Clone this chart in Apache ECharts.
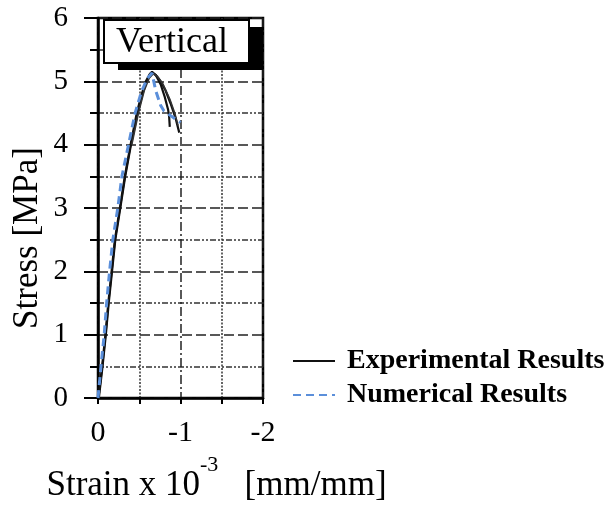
<!DOCTYPE html>
<html>
<head>
<meta charset="utf-8">
<script src="https://cdn.jsdelivr.net/npm/echarts@6/dist/echarts.min.js"></script>
<style>
  html, body { margin: 0; padding: 0; background: #fff; }
  #chart { width: 609px; height: 509px; }
</style>
</head>
<body>
<div id="chart"></div>
<script>
// Strain values (x 10^-3 mm/mm, compressive shown as negative) and stress (MPa)
const exp1Strain = [-0.01, -0.055, -0.095, -0.13, -0.17, -0.21, -0.27, -0.33, -0.40, -0.48, -0.54, -0.59, -0.625, -0.66, -0.70, -0.76, -0.82, -0.88, -0.94, -0.985];
const exp1Stress = [0, 0.5, 1.0, 1.5, 2.0, 2.5, 3.0, 3.5, 4.0, 4.5, 4.8, 5.0, 5.1, 5.13, 5.1, 5.0, 4.85, 4.65, 4.42, 4.19];

const exp2Strain = [-0.005, -0.05, -0.09, -0.125, -0.165, -0.205, -0.265, -0.325, -0.395, -0.47, -0.53, -0.58, -0.63, -0.655, -0.70, -0.76, -0.81, -0.85, -0.862, -0.87];
const exp2Stress = [0, 0.5, 1.0, 1.5, 2.0, 2.5, 3.0, 3.5, 4.0, 4.5, 4.8, 5.0, 5.12, 5.15, 5.1, 4.95, 4.75, 4.55, 4.45, 4.28];

const exp3Strain = [-0.41, -0.49, -0.56, -0.62, -0.67, -0.72, -0.79, -0.87, -0.93, -0.97];
const exp3Stress = [4.0, 4.5, 4.85, 5.05, 5.12, 5.08, 4.95, 4.72, 4.5, 4.3];

const numStrain = [0, -0.036, -0.075, -0.105, -0.14, -0.18, -0.24, -0.29, -0.37, -0.45, -0.53, -0.6, -0.655, -0.70, -0.76, -0.80, -0.90, -1.0];
const numStress = [0, 0.5, 1.0, 1.5, 2.0, 2.5, 3.0, 3.5, 4.0, 4.5, 4.85, 5.05, 5.13, 4.85, 4.62, 4.53, 4.44, 4.35];

const xTicks = [0, -1, -2];
const yTicks = [0, 1, 2, 3, 4, 5, 6];
const seriesNames = ['Experimental Results', 'Numerical Results'];
const panelLabel = 'Vertical';

function pairs(xs, ys) { return xs.map((x, i) => [x, ys[i]]); }

const serif = 'Liberation Serif, Times New Roman, serif';
const chart = echarts.init(document.getElementById('chart'), null, { renderer: 'canvas' });

const expStyle = { color: '#111', width: 2.2, type: 'solid' };

chart.setOption({
  animation: false,
  backgroundColor: '#fff',
  grid: {
    left: 98, right: 346, top: 18, bottom: 111,
    containLabel: false,
    outerBoundsMode: 'none',
    show: true, borderColor: '#000', borderWidth: 2.5, backgroundColor: 'transparent'
  },
  xAxis: {
    type: 'value',
    min: xTicks[xTicks.length - 1], max: xTicks[0], interval: 1,
    inverse: true,
    axisLine: { show: true, onZero: false, lineStyle: { color: '#000', width: 2.5 } },
    axisTick: { show: true, inside: false, length: 6, lineStyle: { color: '#000', width: 2 } },
    minorTick: { show: true, splitNumber: 2, length: 6, lineStyle: { color: '#000', width: 2 } },
    splitLine: { show: true, lineStyle: { color: '#222', width: 1.5, type: [9, 3, 2, 3] } },
    minorSplitLine: { show: true, lineStyle: { color: '#333', width: 1.5, type: [2, 1.5] } },
    axisLabel: {
      margin: 20, color: '#000', fontFamily: serif, fontSize: 30,
      formatter: v => xTicks.includes(v) ? String(v) : ''
    },
    name: '{a|Strain x 10}{s|-3}{a|   [mm/mm]}',
    nameLocation: 'middle',
    nameGap: 56,
    nameTextStyle: {
      padding: [0, 0, 0, 72],
      rich: {
        a: { fontFamily: serif, fontSize: 35, color: '#000', lineHeight: 64 },
        s: { fontFamily: serif, fontSize: 22, color: '#000', verticalAlign: 'top', lineHeight: 24 }
      }
    }
  },
  yAxis: {
    type: 'value',
    min: yTicks[0], max: yTicks[yTicks.length - 1], interval: 1,
    axisLine: { show: true, lineStyle: { color: '#000', width: 2.5 } },
    axisTick: { show: true, inside: false, length: 14, lineStyle: { color: '#000', width: 2 } },
    minorTick: { show: true, splitNumber: 2, length: 8, lineStyle: { color: '#000', width: 2 } },
    splitLine: { show: true, lineStyle: { color: '#222', width: 1.5, type: [10, 4] } },
    minorSplitLine: { show: true, lineStyle: { color: '#333', width: 1.5, type: [6, 2, 2, 2, 2, 2] } },
    axisLabel: { margin: 30, color: '#000', fontFamily: serif, fontSize: 29, padding: [6, 0, 0, 0] },
    name: 'Stress [MPa]',
    nameLocation: 'middle',
    nameGap: 53,
    nameTextStyle: { fontFamily: serif, fontSize: 35, color: '#000', padding: [0, 60, 0, 0] }
  },
  legend: {
    orient: 'vertical',
    left: 287, top: 342,
    itemWidth: 42, itemHeight: 14, itemGap: 6,
    data: seriesNames,
    itemStyle: { opacity: 0 },
    textStyle: { fontFamily: serif, fontSize: 28, fontWeight: 'bold', color: '#000', padding: [0, 0, 0, 7] }
  },
  graphic: [
    { type: 'rect', shape: { x: 118, y: 27, width: 145, height: 43 }, style: { fill: '#000' }, z: 10 },
    { type: 'rect', shape: { x: 104, y: 20, width: 145, height: 43 }, style: { fill: '#fff', stroke: '#000', lineWidth: 2 }, z: 11 },
    { type: 'text', x: 172, y: 43, style: { text: panelLabel, fontFamily: serif, fontSize: 36, fill: '#000', align: 'center', verticalAlign: 'middle' }, z: 12 }
  ],
  series: [
    { name: seriesNames[0], type: 'line', data: pairs(exp1Strain, exp1Stress), symbol: 'none', lineStyle: expStyle, itemStyle: { color: '#111' }, z: 3 },
    { name: seriesNames[0], type: 'line', data: pairs(exp2Strain, exp2Stress), symbol: 'none', lineStyle: expStyle, itemStyle: { color: '#111' }, z: 3 },
    { name: seriesNames[0], type: 'line', data: pairs(exp3Strain, exp3Stress), symbol: 'none', lineStyle: { color: '#333', width: 1.6 }, itemStyle: { color: '#333' }, z: 3 },
    { name: seriesNames[1], type: 'line', data: pairs(numStrain, numStress), symbol: 'none', lineStyle: { color: '#5b8fda', width: 3, type: [8, 5] }, itemStyle: { color: '#5b8fda' }, z: 4 }
  ]
});
</script>
</body>
</html>
